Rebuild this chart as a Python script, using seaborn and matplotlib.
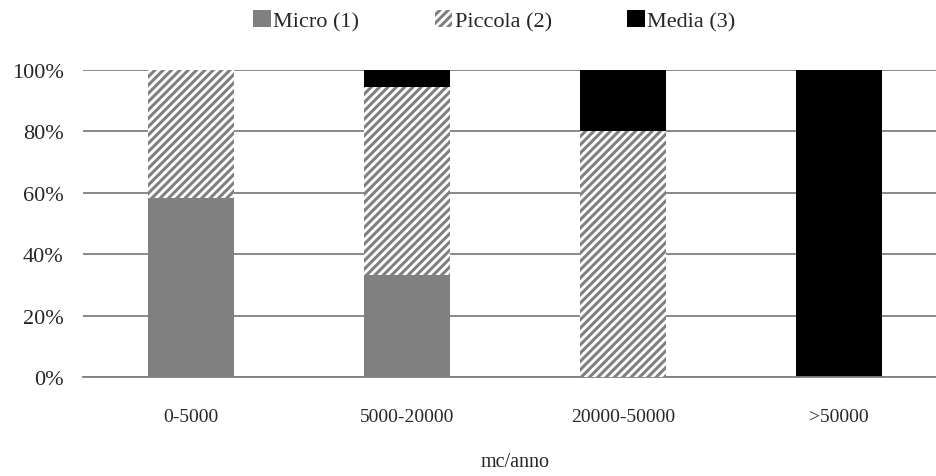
import numpy as np
import pandas as pd
import matplotlib as mpl
import matplotlib.pyplot as plt
import seaborn as sns
import matplotlib.patches as patches

# dati (quota % per classe di produzione)
classi = ['0-5000', '5000-20000', '20000-50000', '>50000']
micro = [58.3, 33.3, 0.0, 0.0]
piccola = [41.7, 61.1, 80.0, 0.0]
media = [0.0, 5.6, 20.0, 100.0]
serie = ['Micro (1)', 'Piccola (2)', 'Media (3)']

sns.set_style("white")
plt.rcParams['font.family'] = ['Liberation Serif', 'DejaVu Serif']
plt.rcParams['hatch.linewidth'] = 2.2

df = pd.DataFrame({'classe': classi, 'micro': micro,
                   'piccola': piccola, 'media': media})
df['cum2'] = df['micro'] + df['piccola']
df['cum3'] = df['cum2'] + df['media']

fig = plt.figure(figsize=(9.36, 4.77), dpi=100)
ax = fig.add_axes([83 / 936, 1 - 378 / 477, 864 / 936, 307 / 477])

# barre sovrapposte (cumulative)
sns.barplot(x='classe', y='cum3', data=df, color='black', width=0.4,
            saturation=1, ax=ax, linewidth=0, zorder=2)
sns.barplot(x='classe', y='cum2', data=df, color='white', width=0.4,
            saturation=1, ax=ax, hatch='////', edgecolor='#808080',
            linewidth=0, zorder=3)
sns.barplot(x='classe', y='micro', data=df, color='#808080', width=0.4,
            saturation=1, ax=ax, linewidth=0, zorder=4)

ax.set_xlim(-0.5, 3.5)
ax.set_ylim(0, 100)
ax.set_yticks(np.arange(0, 101, 20))
ax.set_yticklabels(['%d%%' % v for v in range(0, 101, 20)])
ax.yaxis.grid(True, color='#808080', linewidth=1.3)
ax.set_axisbelow(True)
for s in ['top', 'left', 'right']:
    ax.spines[s].set_visible(False)
ax.spines['bottom'].set_color('#808080')
ax.spines['bottom'].set_linewidth(1.3)
ax.tick_params(axis='y', length=0, pad=14, labelsize=16)
ax.tick_params(axis='x', length=0, pad=22, labelsize=14)
ax.set_ylabel('')
ax.set_xlabel('mc/anno', fontsize=14.5, labelpad=20)

handles = [patches.Patch(facecolor='#808080', edgecolor='none'),
           patches.Patch(facecolor='white', edgecolor='#808080',
                         linewidth=0, hatch='////'),
           patches.Patch(facecolor='black', edgecolor='none')]
fig.legend(handles, serie, loc='center', bbox_to_anchor=(0.528, 0.954),
           ncol=3, frameon=False, fontsize=16, handlelength=0.8,
           handleheight=0.8, handletextpad=0.1, columnspacing=3.4)

fig.savefig('out.png', dpi=100)
